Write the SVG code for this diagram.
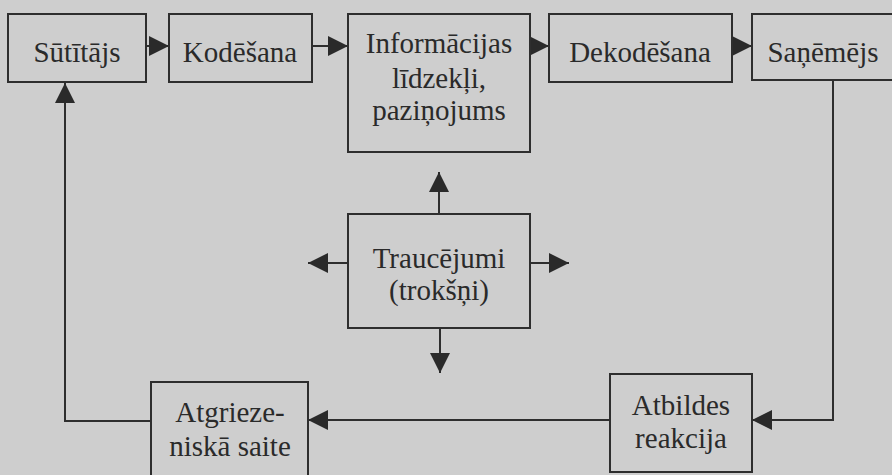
<svg xmlns="http://www.w3.org/2000/svg" width="892" height="475" viewBox="0 0 892 475">
  <style>
    .box { fill: none; stroke: #2e2e2e; stroke-width: 2; }
    .wire { fill: none; stroke: #2e2e2e; stroke-width: 2; }
  </style>
  <defs>
    <marker id="headL" viewBox="0 0 20 20" refX="20" refY="10" markerWidth="20" markerHeight="20" markerUnits="userSpaceOnUse" orient="auto">
      <path d="M0,0 L20,10 L0,20 Z" fill="#2a2a2a"/>
    </marker>
  </defs>

  <rect width="892" height="475" fill="#cecece"/>

  <g id="connectors">
    <line class="wire" x1="146" y1="46" x2="169" y2="46" marker-end="url(#headL)"/>
    <line class="wire" x1="312" y1="46" x2="348" y2="46" marker-end="url(#headL)"/>
    <line class="wire" x1="530" y1="46" x2="549" y2="46" marker-end="url(#headL)"/>
    <line class="wire" x1="732" y1="46" x2="752" y2="46" marker-end="url(#headL)"/>
    <!-- receiver down to response -->
    <polyline class="wire" points="833,80 833,420 752,420" marker-end="url(#headL)"/>
    <!-- response to feedback -->
    <line class="wire" x1="610" y1="420" x2="308" y2="420" marker-end="url(#headL)"/>
    <!-- feedback back to sender -->
    <polyline class="wire" points="151,421 65,421 65,83" marker-end="url(#headL)"/>
    <!-- noise influences -->
    <line class="wire" x1="439" y1="214" x2="439" y2="172" marker-end="url(#headL)"/>
    <line class="wire" x1="348" y1="263" x2="308" y2="263" marker-end="url(#headL)"/>
    <line class="wire" x1="530" y1="263" x2="569" y2="263" marker-end="url(#headL)"/>
    <line class="wire" x1="440" y1="328" x2="440" y2="373" marker-end="url(#headL)"/>
  </g>

  <g font-family="Liberation Serif, Times New Roman, serif" font-size="29" fill="#2a2a2a" text-anchor="middle">
    <g id="sender">
      <rect class="box" x="8" y="14" width="138" height="68"/>
      <text x="77" y="62">Sūtītājs</text>
    </g>
    <g id="encoding">
      <rect class="box" x="169" y="14" width="143" height="68"/>
      <text x="240" y="62">Kodēšana</text>
    </g>
    <g id="channel">
      <rect class="box" x="348" y="14" width="182" height="138"/>
      <text x="439" y="53">Informācijas</text>
      <text x="439" y="88">līdzekļi,</text>
      <text x="439" y="120">paziņojums</text>
    </g>
    <g id="decoding">
      <rect class="box" x="549" y="14" width="183" height="68"/>
      <text x="640" y="62">Dekodēšana</text>
    </g>
    <g id="receiver">
      <rect class="box" x="752" y="14" width="150" height="66"/>
      <text x="823" y="62">Saņēmējs</text>
    </g>
    <g id="noise">
      <rect class="box" x="348" y="214" width="182" height="114"/>
      <text x="439" y="268">Traucējumi</text>
      <text x="439" y="300">(trokšņi)</text>
    </g>
    <g id="feedback">
      <rect class="box" x="151" y="382" width="157" height="100"/>
      <text x="230" y="422">Atgrieze-</text>
      <text x="230" y="456">niskā saite</text>
    </g>
    <g id="response">
      <rect class="box" x="610" y="374" width="142" height="98"/>
      <text x="681" y="415">Atbildes</text>
      <text x="681" y="448">reakcija</text>
    </g>
  </g>
</svg>
